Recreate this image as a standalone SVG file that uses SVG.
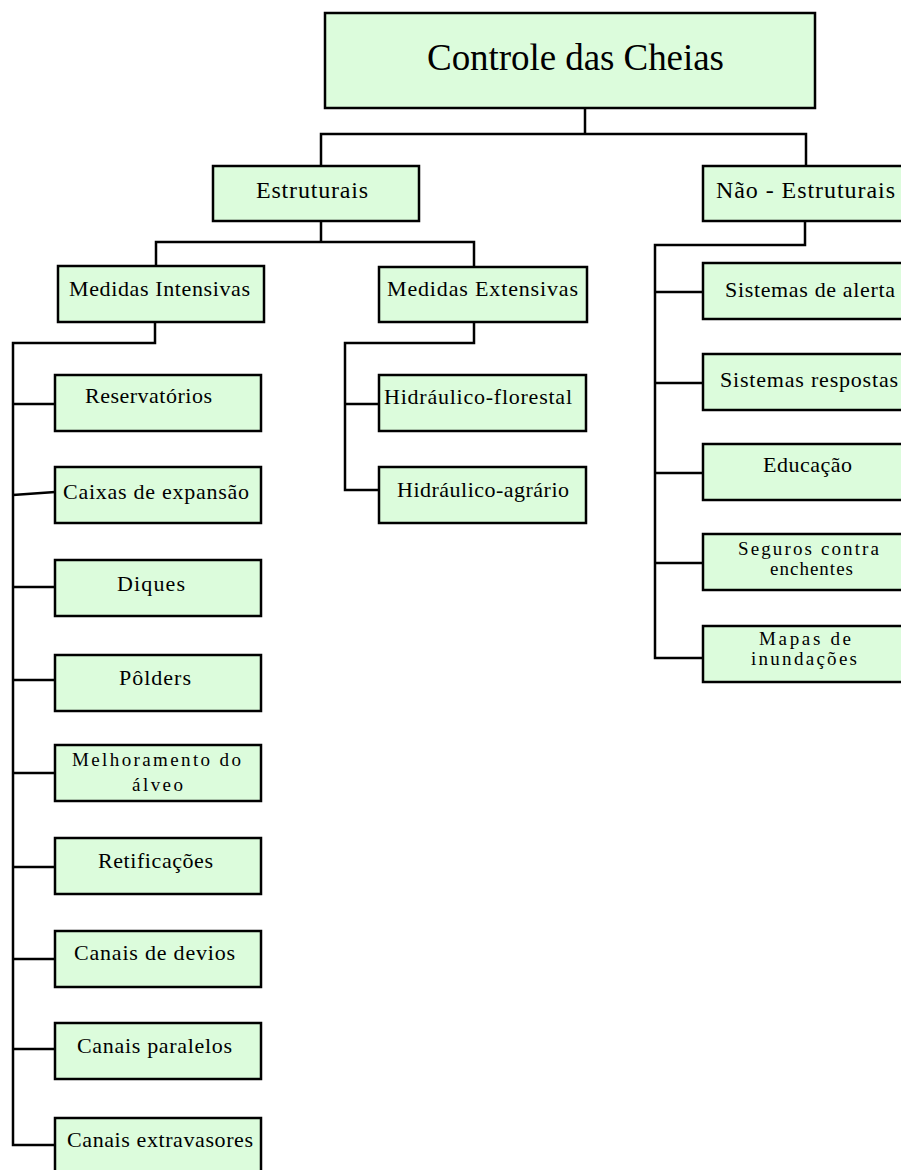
<svg xmlns="http://www.w3.org/2000/svg" width="901" height="1170" viewBox="0 0 901 1170">
<style>
.box{fill:#dcfcdc;stroke:#000;stroke-width:2.5}
.ln{fill:none;stroke:#000;stroke-width:2.5}
text{font-family:"Liberation Serif","Times New Roman",serif;fill:#000;text-anchor:middle;font-size:22px}
.big{font-size:37px}
.mid{font-size:24px}
.two{font-size:19px}
</style>
<rect width="901" height="1170" fill="#fff"/>
<g id="connectors">
<path class="ln" d="M585,108 V134 M321,166 V134 H806 V166"/>
<path class="ln" d="M321,221 V242 M156,266 V242 H474 V267"/>
<path class="ln" d="M155,322 V343 H13 V1145 H55 M13,404 H55 M13,495 L55,492 M13,587 H55 M13,680 H55 M13,773 H55 M13,867 H55 M13,959 H55 M13,1049 H55"/>
<path class="ln" d="M474,322 V343 H345 V490 H379 M345,404 H379"/>
<path class="ln" d="M805,221 V245 H655 V658 H703 M655,292 H703 M655,383 H703 M655,473 H703 M655,563 H703"/>
</g>
<g id="n-root"><rect class="box" x="325" y="13" width="490" height="95"/><text class="big" x="575.5" y="70" textLength="297">Controle das Cheias</text></g>
<g id="n-estruturais"><rect class="box" x="213" y="166" width="206" height="55"/><text class="mid" x="312" y="198" textLength="112">Estruturais</text></g>
<g id="n-nao-estruturais"><rect class="box" x="703" y="166" width="210" height="55"/><text class="mid" x="805.5" y="198" textLength="179">Não - Estruturais</text></g>
<g id="n-intensivas"><rect class="box" x="58" y="266" width="206" height="56"/><text x="159.5" y="296" textLength="181">Medidas Intensivas</text></g>
<g id="n-extensivas"><rect class="box" x="379" y="267" width="208" height="55"/><text x="482.5" y="296" textLength="191">Medidas Extensivas</text></g>
<g id="n-reservatorios"><rect class="box" x="55" y="375" width="206" height="56"/><text x="148.5" y="403" textLength="127">Reservatórios</text></g>
<g id="n-caixas"><rect class="box" x="55" y="467" width="206" height="56"/><text x="156" y="499" textLength="186">Caixas de expansão</text></g>
<g id="n-diques"><rect class="box" x="55" y="560" width="206" height="56"/><text x="151" y="591" textLength="68">Diques</text></g>
<g id="n-polders"><rect class="box" x="55" y="655" width="206" height="56"/><text x="155" y="685" textLength="72">Pôlders</text></g>
<g id="n-melhoramento"><rect class="box" x="55" y="745" width="206" height="56"/><text class="two" x="156.5" y="766" textLength="169">Melhoramento do</text><text class="two" x="157.5" y="791" textLength="51">álveo</text></g>
<g id="n-retificacoes"><rect class="box" x="55" y="838" width="206" height="56"/><text x="155.5" y="868" textLength="115">Retificações</text></g>
<g id="n-devios"><rect class="box" x="55" y="931" width="206" height="56"/><text x="154.5" y="960" textLength="161">Canais de devios</text></g>
<g id="n-paralelos"><rect class="box" x="55" y="1023" width="206" height="56"/><text x="154.5" y="1053" textLength="155">Canais paralelos</text></g>
<g id="n-extravasores"><rect class="box" x="55" y="1118" width="206" height="60"/><text x="160" y="1147" textLength="186">Canais extravasores</text></g>
<g id="n-florestal"><rect class="box" x="379" y="375" width="207" height="56"/><text x="478" y="404" textLength="188">Hidráulico-florestal</text></g>
<g id="n-agrario"><rect class="box" x="379" y="467" width="207" height="56"/><text x="483" y="497" textLength="172">Hidráulico-agrário</text></g>
<g id="n-alerta"><rect class="box" x="703" y="263" width="210" height="56"/><text x="810" y="297" textLength="170">Sistemas de alerta</text></g>
<g id="n-respostas"><rect class="box" x="703" y="354" width="210" height="56"/><text x="809" y="387" textLength="178">Sistemas respostas</text></g>
<g id="n-educacao"><rect class="box" x="703" y="444" width="210" height="56"/><text x="807.5" y="472" textLength="89">Educação</text></g>
<g id="n-seguros"><rect class="box" x="703" y="534" width="210" height="56"/><text class="two" x="808.5" y="555" textLength="141">Seguros contra</text><text class="two" x="811.5" y="575" textLength="83">enchentes</text></g>
<g id="n-mapas"><rect class="box" x="703" y="626" width="210" height="56"/><text class="two" x="805" y="645" textLength="92">Mapas de</text><text class="two" x="804" y="665" textLength="106">inundações</text></g>
</svg>
